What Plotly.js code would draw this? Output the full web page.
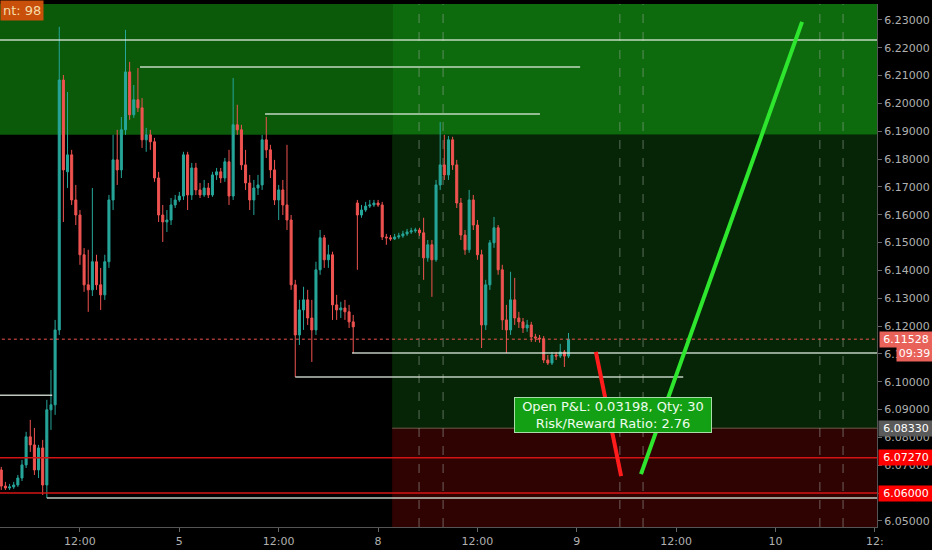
<!DOCTYPE html>
<html>
<head>
<meta charset="utf-8">
<script src="https://cdn.plot.ly/plotly-3.0.1.min.js"></script>
<style>
  html, body { margin: 0; padding: 0; background: #000; }
  #chart { width: 932px; height: 550px; }
</style>
</head>
<body>
<div id="chart"></div>
<script>
// ---- 30-minute bars (bar ordinal on a weekend-compressed time scale) ----
const open = [
  6.0683,6.0625,6.0618,6.0622,6.0629,6.0654,6.0701,6.0802,6.0773,6.0683,
  6.0762,6.0629,6.0899,6.0917,6.1186,6.2084,6.1754,6.1815,6.1653,6.1599,
  6.1456,6.1348,6.1330,6.1431,6.1348,6.1312,6.1431,6.1653,6.1797,6.1761,
  6.1905,6.2113,6.1959,6.2013,6.1984,6.1869,6.1887,6.1862,6.1732,6.1599,
  6.1574,6.1581,6.1635,6.1653,6.1667,6.1815,6.1671,6.1768,6.1689,6.1671,
  6.1696,6.1671,6.1743,6.1754,6.1732,6.1790,6.1667,6.1923,6.1905,6.1779,
  6.1714,6.1653,6.1696,6.1707,6.1869,6.1833,6.1761,6.1653,6.1689,6.1635,
  6.1581,6.1348,6.1168,6.1258,6.1294,6.1229,6.1186,6.1402,6.1517,6.1438,
  6.1456,6.1276,6.1258,6.1265,6.1251,6.1215,6.1642,6.1599,6.1617,6.1631,
  6.1635,6.1642,6.1635,6.1520,6.1517,6.1513,6.1520,6.1524,6.1531,6.1538,
  6.1542,6.1545,6.1535,6.1445,6.1492,6.1438,6.1707,6.1779,6.1743,6.1869,
  6.1779,6.1642,6.1527,6.1474,6.1653,6.1563,6.1456,6.1204,6.1348,6.1499,
  6.1553,6.1402,6.1222,6.1186,6.1294,6.1229,6.1215,6.1193,6.1204,6.1161,
  6.1157,6.1154,6.1078,6.1067,6.1096,6.1092,6.1107,6.1092
];
const high = [
  6.0694,6.0640,6.0633,6.0640,6.0665,6.0719,6.0820,6.0863,6.0834,6.0773,
  6.0791,6.0935,6.1042,6.1222,6.2275,6.2102,6.2041,6.1833,6.1707,6.1617,
  6.1480,6.1474,6.1696,6.1456,6.1409,6.1456,6.1671,6.1887,6.1905,6.1951,
  6.2264,6.2149,6.2066,6.2127,6.2019,6.1912,6.1905,6.1876,6.1754,6.1635,
  6.1617,6.1660,6.1671,6.1682,6.1826,6.1826,6.1786,6.1786,6.1714,6.1725,
  6.1714,6.1754,6.1768,6.1768,6.1804,6.1833,6.2091,6.1995,6.1923,6.1833,
  6.1743,6.1725,6.1743,6.1887,6.1951,6.1851,6.1797,6.1707,6.1725,6.1851,
  6.1599,6.1366,6.1294,6.1341,6.1330,6.1294,6.1431,6.1545,6.1527,6.1492,
  6.1467,6.1312,6.1287,6.1294,6.1276,6.1240,6.1653,6.1635,6.1646,6.1653,
  6.1653,6.1653,6.1646,6.1531,6.1527,6.1531,6.1535,6.1542,6.1549,6.1553,
  6.1553,6.1553,6.1589,6.1509,6.1509,6.1725,6.1933,6.1887,6.1883,6.1880,
  6.1797,6.1660,6.1545,6.1689,6.1671,6.1581,6.1474,6.1366,6.1509,6.1592,
  6.1563,6.1420,6.1276,6.1395,6.1373,6.1251,6.1229,6.1222,6.1215,6.1172,
  6.1168,6.1164,6.1096,6.1107,6.1107,6.1136,6.1114,6.1175
];
const low = [
  6.0611,6.0611,6.0611,6.0615,6.0622,6.0643,6.0690,6.0748,6.0665,6.0654,
  6.0593,6.0582,6.0827,6.0881,6.1168,6.1574,6.1696,6.1635,6.1563,6.1420,
  6.1323,6.1251,6.1308,6.1330,6.1258,6.1294,6.1409,6.1617,6.1707,6.1732,
  6.1887,6.1941,6.1948,6.1969,6.1840,6.1826,6.1833,6.1718,6.1574,6.1502,
  6.1538,6.1563,6.1624,6.1646,6.1653,6.1617,6.1653,6.1671,6.1660,6.1664,
  6.1660,6.1664,6.1725,6.1714,6.1718,6.1635,6.1653,6.1887,6.1761,6.1689,
  6.1617,6.1599,6.1671,6.1689,6.1804,6.1732,6.1635,6.1581,6.1599,6.1545,
  6.1330,6.1017,6.1132,6.1186,6.1204,6.1071,6.1168,6.1384,6.1409,6.1409,
  6.1222,6.1222,6.1229,6.1222,6.1193,6.1103,6.1402,6.1589,6.1610,6.1624,
  6.1628,6.1628,6.1509,6.1492,6.1506,6.1509,6.1513,6.1517,6.1524,6.1531,
  6.1535,6.1524,6.1366,6.1431,6.1305,6.1431,6.1689,6.1725,6.1725,6.1761,
  6.1624,6.1509,6.1456,6.1463,6.1545,6.1438,6.1121,6.1186,6.1330,6.1481,
  6.1384,6.1186,6.1103,6.1168,6.1204,6.1193,6.1175,6.1179,6.1143,6.1143,
  6.1140,6.1067,6.1060,6.1060,6.1078,6.1085,6.1053,6.1085
];
const close = [
  6.0625,6.0618,6.0622,6.0629,6.0654,6.0701,6.0802,6.0773,6.0683,6.0762,
  6.0629,6.0899,6.0917,6.1186,6.2084,6.1761,6.1815,6.1653,6.1599,6.1456,
  6.1348,6.1330,6.1431,6.1348,6.1312,6.1431,6.1653,6.1797,6.1761,6.1905,
  6.2113,6.1959,6.2013,6.1984,6.1869,6.1887,6.1862,6.1732,6.1599,6.1574,
  6.1581,6.1635,6.1653,6.1667,6.1815,6.1671,6.1768,6.1689,6.1671,6.1696,
  6.1671,6.1743,6.1754,6.1732,6.1790,6.1667,6.1923,6.1905,6.1779,6.1714,
  6.1653,6.1696,6.1707,6.1869,6.1833,6.1761,6.1653,6.1689,6.1635,6.1581,
  6.1348,6.1168,6.1258,6.1294,6.1229,6.1186,6.1402,6.1517,6.1438,6.1456,
  6.1276,6.1258,6.1265,6.1251,6.1215,6.1197,6.1599,6.1617,6.1631,6.1635,
  6.1642,6.1635,6.1520,6.1517,6.1513,6.1520,6.1524,6.1531,6.1538,6.1542,
  6.1545,6.1535,6.1445,6.1492,6.1438,6.1707,6.1779,6.1743,6.1869,6.1779,
  6.1642,6.1527,6.1474,6.1653,6.1563,6.1456,6.1204,6.1348,6.1499,6.1553,
  6.1402,6.1222,6.1186,6.1294,6.1229,6.1215,6.1193,6.1204,6.1161,6.1157,
  6.1154,6.1078,6.1067,6.1096,6.1092,6.1107,6.1092,6.11528
];

// time-axis labels (at bar ordinals)
const tickBars = [19, 43, 67, 91, 115, 139, 163, 187, 211];
const tickText = ['12:00', '5', '12:00', '8', '12:00', '9', '12:00', '10', '12:'];
const xRange = [-0.31, 211.5];
const yRange = [6.0478, 6.2357];

// drawn horizontal levels (white)
const levelPrice = [6.2228, 6.2131, 6.1962, 6.1103, 6.1017, 6.0951, 6.0582];
const levelFrom  = [-1, 33.5, 63.7, 84.7, 71, -1, 11];
const levelTo    = [212, 139.8, 130.1, 212, 164.7, 12.3, 212];

// order levels (red)
const redLevels = [6.0727, 6.0600];
const lastPrice = 6.11528;
const countdown = '09:39';
const entryPrice = 6.0833;

// zones
const zoneStartBar = 94.4;
const upperZoneLow = 6.1887;

// session separators (bar ordinals)
const sessionBars = [100.9, 106.7, 149.4, 155.0, 197.7, 203.3];

// projection lines
const dropBars = [143.6, 149.7];
const dropPrices = [6.1107, 6.0661];
const riseBars = [154.5, 193.4];
const risePrices = [6.0668, 6.2293];

// position info
const openPnl = '0.03198';
const qty = 30;
const riskReward = 2.76;
const counterLabel = 'nt: 98';

const barIndex = open.map((_, i) => i);

const FONT = 'DejaVu Sans, Liberation Sans, sans-serif';

const traces = [];

levelPrice.forEach((p, k) => {
  traces.push({
    type: 'scatter', mode: 'lines',
    x: [levelFrom[k], levelTo[k]], y: [p, p],
    line: { color: 'rgba(225,235,225,0.85)', width: 1.5 },
    hoverinfo: 'skip', showlegend: false
  });
});

traces.push({
  type: 'candlestick',
  x: barIndex, open: open, high: high, low: low, close: close,
  increasing: { line: { color: '#26a69a', width: 1 }, fillcolor: '#26a69a' },
  decreasing: { line: { color: '#ef5350', width: 1 }, fillcolor: '#ef5350' },
  whiskerwidth: 0,
  hoverinfo: 'skip',
  showlegend: false
});

redLevels.forEach(p => {
  traces.push({
    type: 'scatter', mode: 'lines',
    x: [xRange[0] - 1, xRange[1] + 1], y: [p, p],
    line: { color: '#d41414', width: 1.5 },
    hoverinfo: 'skip', showlegend: false
  });
});

traces.push({
  type: 'scatter', mode: 'lines',
  x: [xRange[0] - 1, xRange[1] + 1], y: [lastPrice, lastPrice],
  line: { color: '#ef5350', width: 1, dash: 'dot' },
  hoverinfo: 'skip', showlegend: false
});

traces.push({
  type: 'scatter', mode: 'lines', x: dropBars, y: dropPrices,
  line: { color: '#ff1c1c', width: 4 }, hoverinfo: 'skip', showlegend: false
});
traces.push({
  type: 'scatter', mode: 'lines', x: riseBars, y: risePrices,
  line: { color: '#2ee62e', width: 4 }, hoverinfo: 'skip', showlegend: false
});

const shapes = [
  { type: 'rect', xref: 'x', yref: 'y', layer: 'below',
    x0: xRange[0], x1: zoneStartBar, y0: upperZoneLow, y1: yRange[1],
    fillcolor: '#0a5a0a', line: { width: 0 } },
  { type: 'rect', xref: 'x', yref: 'y', layer: 'below',
    x0: zoneStartBar, x1: xRange[1], y0: upperZoneLow, y1: yRange[1],
    fillcolor: '#0d6a0d', line: { width: 0 } },
  { type: 'rect', xref: 'x', yref: 'y', layer: 'below',
    x0: zoneStartBar, x1: xRange[1], y0: entryPrice, y1: upperZoneLow,
    fillcolor: '#062506', line: { width: 0 } },
  { type: 'rect', xref: 'x', yref: 'y', layer: 'below',
    x0: zoneStartBar, x1: xRange[1], y0: yRange[0], y1: entryPrice,
    fillcolor: '#300303', line: { width: 0 } },
  { type: 'line', xref: 'x', yref: 'y', layer: 'below',
    x0: zoneStartBar, x1: xRange[1], y0: entryPrice, y1: entryPrice,
    line: { color: '#6e5a48', width: 1 } }
];
sessionBars.forEach(b => {
  shapes.push({
    type: 'line', xref: 'x', yref: 'y', layer: 'below',
    x0: b, x1: b, y0: yRange[0], y1: yRange[1],
    line: { color: 'rgba(160,170,160,0.55)', width: 1, dash: 'dash' }
  });
});

function axisLabel(price, text, bg, shift, w) {
  return {
    xref: 'paper', yref: 'y', x: 1, y: price, xanchor: 'left', yanchor: 'middle',
    xshift: shift, text: text, showarrow: false,
    bgcolor: bg, borderpad: 1, width: w, align: 'center',
    font: { family: FONT, size: 11, color: '#ffffff' }
  };
}

const annotations = [
  axisLabel(lastPrice, lastPrice.toFixed(5), '#e8625a', 2, 50),
  axisLabel(entryPrice, entryPrice.toFixed(5), '#5a5a5a', 1, 52),
  axisLabel(redLevels[0], redLevels[0].toFixed(5), '#ff0000', 1, 52),
  axisLabel(redLevels[1], redLevels[1].toFixed(5), '#ff0000', 1, 52),
  axisLabel(6.1103, countdown, '#e8625a', 19, 33),
  {
    xref: 'x', yref: 'y', x: 147.7, y: 6.0881, xanchor: 'center', yanchor: 'middle',
    text: 'Open P&L: ' + openPnl + ', Qty: ' + qty + '<br>Risk/Reward Ratio: ' + riskReward.toFixed(2),
    showarrow: false, bgcolor: '#14a014', bordercolor: '#a8dca8', borderwidth: 1, borderpad: 1,
    width: 194,
    font: { family: FONT, size: 13, color: '#eefcee' }
  },
  {
    xref: 'paper', yref: 'paper', x: 0, y: 0.9885, xanchor: 'left', yanchor: 'middle',
    text: counterLabel, showarrow: false, bgcolor: '#c8500a', borderpad: 2,
    font: { family: FONT, size: 13, color: '#f6dca8' }
  }
];

const layout = {
  width: 932, height: 550,
  margin: { l: 0, r: 55, t: 4, b: 23 },
  paper_bgcolor: '#000000', plot_bgcolor: '#000000',
  showlegend: false,
  xaxis: {
    range: xRange, tickmode: 'array', tickvals: tickBars, ticktext: tickText,
    showgrid: false, zeroline: false, showline: true, linecolor: '#555555',
    ticks: 'outside', ticklen: 4, tickcolor: '#666666',
    tickfont: { family: FONT, size: 11, color: '#b0b0b0' },
    rangeslider: { visible: false }, fixedrange: true
  },
  yaxis: {
    side: 'right', range: yRange, tick0: 6.05, dtick: 0.01, tickformat: '.5f',
    showgrid: false, zeroline: false, showline: true, linecolor: '#555555',
    ticks: 'outside', ticklen: 4, tickcolor: '#666666',
    tickfont: { family: FONT, size: 11, color: '#b0b0b0' },
    fixedrange: true
  },
  shapes: shapes,
  annotations: annotations
};

Plotly.newPlot('chart', traces, layout, { displayModeBar: false, staticPlot: true });
</script>
</body>
</html>
